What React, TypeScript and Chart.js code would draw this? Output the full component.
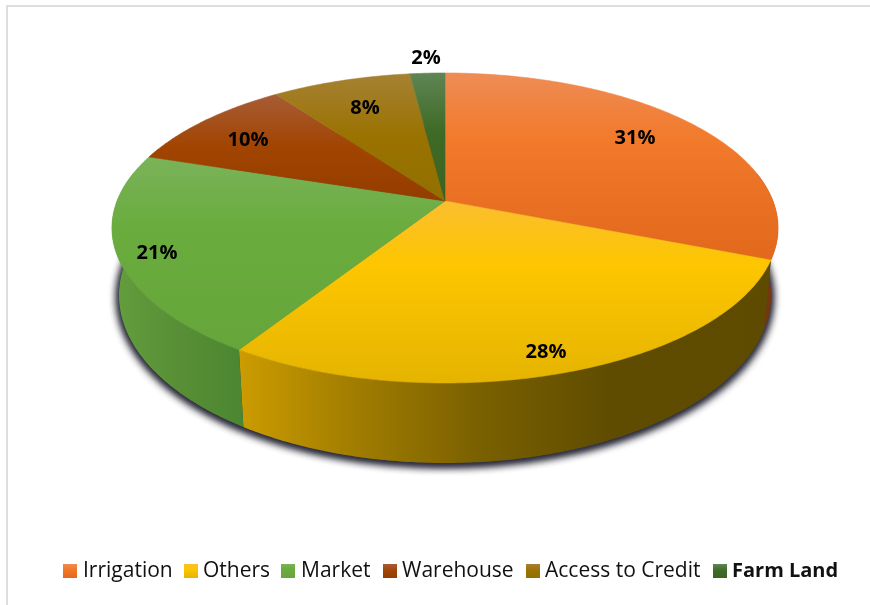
import React, { useEffect, useRef } from "react";
import { Chart, registerables } from "chart.js";

Chart.register(...registerables);

const categories = ["Irrigation", "Others", "Market", "Warehouse", "Access to Credit", "Farm Land"];
const shares = [31, 28, 21, 10, 8, 2];
const percentLabels = ["31%", "28%", "21%", "10%", "8%", "2%"];

const baseColors = ["#F27A2B", "#FDC600", "#6AAB3D", "#A14400", "#9A7200", "#3F6B26"];
const topGradients = [
  [[0, "#EE8C56"], [0.35, "#F27A2B"], [1, "#E2681B"]],
  [[0, "#FBBE30"], [0.35, "#FDC600"], [1, "#E5B400"]],
  [[0, "#7AB359"], [0.35, "#6BAC3F"], [1, "#65A539"]],
  [[0, "#A75C36"], [0.5, "#A14400"], [1, "#943D00"]],
  [[0, "#A68133"], [0.5, "#9A7200"], [1, "#917000"]],
  [[0, "#5F8554"], [0.45, "#3F6B26"], [1, "#3B6320"]],
];
const sideGradients = [
  [[0, "#6E310A"], [1, "#7A3A10"]],
  [[0, "#CC9C00"], [0.2, "#A47F00"], [0.45, "#7A6000"], [0.7, "#5F4C00"], [1, "#5E4B00"]],
  [[0, "#639E3E"], [0.5, "#588F36"], [1, "#4B8630"]],
  [[0, "#7A3400"], [1, "#7A3400"]],
  [[0, "#755700"], [1, "#755700"]],
  [[0, "#2F501C"], [1, "#2F501C"]],
];

// Layout of the tilted disc (perspective projection of the unit circle)
const CX = 445;
const TILT = -0.174;
const TOP = { k: 328, cy: 201, a: 150.3 };
const BOTTOM = { k: 321, cy: 266, a: 162.7 };
const labelAnchors = [[635, 138], [546, 352], [157, 253], [248, 140], [365, 108], [426, 58]];
const legendSwatchX = [63, 184, 281, 383, 526, 713];
const legendTextX = [83, 203, 301, 402, 545, 732];

function project(layer: typeof TOP, a: number) {
  const u = Math.cos(a);
  const v = Math.sin(a);
  const den = 1 + TILT * v;
  return { x: CX + (layer.k * u) / den, y: layer.cy + (layer.a * v) / den, v };
}

function rimPoints(layer: typeof TOP, start: number, end: number) {
  const n = Math.max(4, Math.ceil((end - start) / 0.01));
  const pts = [];
  for (let i = 0; i <= n; i++) pts.push(project(layer, start + ((end - start) * i) / n));
  return pts;
}

function gradient(ctx: CanvasRenderingContext2D, x0: number, y0: number, x1: number, y1: number, stops: any[]) {
  const g = ctx.createLinearGradient(x0, y0, x1, y1);
  stops.forEach(([o, c]) => g.addColorStop(o, c));
  return g;
}

const discPlugin = {
  id: "tiltedDisc",
  beforeDraw(chart: any) {
    const { ctx, width, height } = chart;
    ctx.save();
    ctx.fillStyle = "#FFFFFF";
    ctx.fillRect(0, 0, width, height);
    ctx.fillStyle = "#DEDEDE";
    ctx.fillRect(6, 5, width - 6, 2);
    ctx.fillRect(6, 5, 2, height - 5);
    ctx.restore();
  },
  // The Arc elements computed by the pie controller give every slice's angles.
  beforeDatasetsDraw(chart: any) {
    const { ctx } = chart;
    const arcs = chart.getDatasetMeta(0).data;
    ctx.save();

    // soft shadow under the base of the disc
    const base = rimPoints(BOTTOM, 0, Math.PI * 2);
    ctx.save();
    ctx.shadowColor = "rgba(40,40,55,1)";
    ctx.shadowBlur = 10;
    ctx.shadowOffsetX = 0;
    ctx.shadowOffsetY = 2;
    ctx.fillStyle = "#444450";
    for (let pass = 0; pass < 3; pass++) {
      ctx.beginPath();
      base.forEach((p, i) => (i ? ctx.lineTo(p.x, p.y) : ctx.moveTo(p.x, p.y)));
      ctx.closePath();
      ctx.fill();
    }
    ctx.restore();

    // side wall
    arcs.forEach((arc: any, i: number) => {
      const t = rimPoints(TOP, arc.startAngle, arc.endAngle).filter((p) => p.v > -0.2);
      const b = rimPoints(BOTTOM, arc.startAngle, arc.endAngle).filter((p) => p.v > -0.2);
      if (t.length < 2) return;
      const xs = t.concat(b).map((p) => p.x);
      const x0 = Math.min(...xs);
      const x1 = Math.max(...xs);
      ctx.fillStyle = gradient(ctx, x0, 0, x1, 0, sideGradients[i]);
      ctx.beginPath();
      t.forEach((p, k) => (k ? ctx.lineTo(p.x, p.y) : ctx.moveTo(p.x, p.y)));
      b.reverse().forEach((p) => ctx.lineTo(p.x, p.y));
      ctx.closePath();
      ctx.fill();
    });

    // top face
    arcs.forEach((arc: any, i: number) => {
      const pts = rimPoints(TOP, arc.startAngle, arc.endAngle);
      const ys = pts.map((p) => p.y).concat(TOP.cy);
      const fill = gradient(ctx, 0, Math.min(...ys), 0, Math.max(...ys), topGradients[i]);
      ctx.fillStyle = fill;
      ctx.strokeStyle = fill;
      ctx.lineWidth = 0.6;
      ctx.beginPath();
      ctx.moveTo(CX, TOP.cy);
      pts.forEach((p) => ctx.lineTo(p.x, p.y));
      ctx.closePath();
      ctx.fill();
      ctx.stroke();
    });
    ctx.restore();
    return false;
  },
  afterDraw(chart: any) {
    const { ctx } = chart;
    ctx.save();
    ctx.fillStyle = "#000000";
    ctx.font = "bold 20px 'Open Sans'";
    ctx.textAlign = "center";
    ctx.textBaseline = "middle";
    percentLabels.forEach((s, i) => ctx.fillText(s, labelAnchors[i][0], labelAnchors[i][1]));

    ctx.textAlign = "left";
    categories.forEach((name, i) => {
      const last = i === categories.length - 1;
      ctx.fillStyle = gradient(ctx, 0, 564, 0, 578, topGradients[i]);
      ctx.fillRect(legendSwatchX[i], 564, 14, 14);
      ctx.fillStyle = "#111111";
      ctx.font = last ? "bold 20px 'Open Sans'" : "21px 'Open Sans'";
      ctx.fillText(name, legendTextX[i], 571);
    });
    ctx.restore();
  },
};

export default function App() {
  const ref = useRef<HTMLCanvasElement>(null);
  useEffect(() => {
    const chart = new Chart(ref.current!, {
      type: "pie",
      data: {
        labels: categories,
        datasets: [{ data: shares, backgroundColor: baseColors, borderWidth: 0 }],
      },
      options: {
        responsive: false,
        animation: false,
        rotation: 0,
        plugins: { legend: { display: false }, tooltip: { enabled: false } },
      },
      plugins: [discPlugin],
    } as any);
    return () => chart.destroy();
  }, []);
  return (
    <div style={{ position: "fixed", left: 0, top: 0, width: 870, height: 605 }}>
      <canvas ref={ref} width={870} height={605} style={{ display: "block" }} />
    </div>
  );
}
